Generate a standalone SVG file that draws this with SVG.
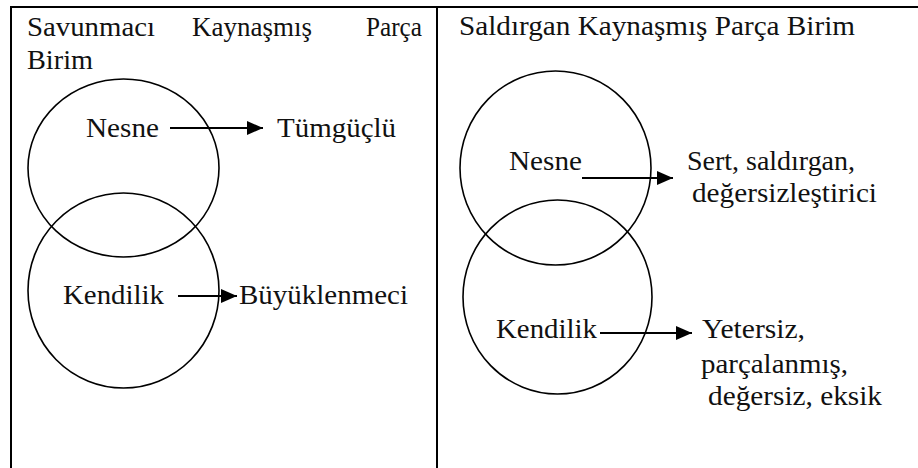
<svg xmlns="http://www.w3.org/2000/svg" width="918" height="468" viewBox="0 0 918 468">
  <style>
    .frame { stroke: #000; stroke-width: 2; fill: none; }
    .ring { stroke: #000; stroke-width: 1.6; fill: none; }
    .link { stroke: #000; stroke-width: 2; fill: none; }
    .lbl text { font-family: 'Liberation Serif', 'DejaVu Serif', 'Times New Roman', serif; font-size: 28px; fill: #111; }
  </style>
  <defs>
    <marker id="head" viewBox="0 0 16 14" refX="16" refY="7" markerWidth="16" markerHeight="14" markerUnits="userSpaceOnUse" orient="auto">
      <path d="M0,0 L16,7 L0,14 Z" fill="#000"/>
    </marker>
  </defs>

  <!-- table frame -->
  <g id="table">
    <line class="frame" x1="10" y1="7" x2="918" y2="7"/>
    <line class="frame" x1="11" y1="6" x2="11" y2="468"/>
    <line class="frame" x1="437" y1="6" x2="437" y2="468"/>
  </g>

  <g class="lbl">
  <!-- left panel -->
  <g id="title-left">
    <text x="27" y="36" textLength="128" lengthAdjust="spacingAndGlyphs">Savunmacı</text>
    <text x="192" y="36" textLength="120" lengthAdjust="spacingAndGlyphs">Kaynaşmış</text>
    <text x="366" y="36" textLength="56" lengthAdjust="spacingAndGlyphs">Parça</text>
    <text x="27" y="69" textLength="66" lengthAdjust="spacingAndGlyphs">Birim</text>
  </g>
  <g id="object-left">
    <ellipse class="ring" cx="123.5" cy="168" rx="95.5" ry="89"/>
    <text x="86" y="137" textLength="73" lengthAdjust="spacingAndGlyphs">Nesne</text>
  </g>
  <g id="self-left">
    <ellipse class="ring" cx="123.5" cy="290.5" rx="95.5" ry="97.5"/>
    <text x="63" y="304" textLength="101" lengthAdjust="spacingAndGlyphs">Kendilik</text>
  </g>
  <g id="omnipotent">
    <text x="277" y="137" textLength="119" lengthAdjust="spacingAndGlyphs">Tümgüçlü</text>
  </g>
  <g id="grandiose">
    <text x="239" y="304" textLength="169" lengthAdjust="spacingAndGlyphs">Büyüklenmeci</text>
  </g>

  <!-- right panel -->
  <g id="title-right">
    <text x="459" y="35" textLength="396" lengthAdjust="spacingAndGlyphs">Saldırgan Kaynaşmış Parça Birim</text>
  </g>
  <g id="object-right">
    <ellipse class="ring" cx="555.5" cy="168" rx="95.5" ry="97"/>
    <text x="509" y="170" textLength="73" lengthAdjust="spacingAndGlyphs">Nesne</text>
  </g>
  <g id="self-right">
    <ellipse class="ring" cx="557.5" cy="297" rx="94.5" ry="97"/>
    <text x="496" y="338" textLength="101" lengthAdjust="spacingAndGlyphs">Kendilik</text>
  </g>
  <g id="harsh">
    <text x="687" y="170" textLength="168" lengthAdjust="spacingAndGlyphs">Sert, saldırgan,</text>
    <text x="692" y="202" textLength="185" lengthAdjust="spacingAndGlyphs">değersizleştirici</text>
  </g>
  <g id="inadequate">
    <text x="702" y="338" textLength="103" lengthAdjust="spacingAndGlyphs">Yetersiz,</text>
    <text x="701" y="373" textLength="147" lengthAdjust="spacingAndGlyphs">parçalanmış,</text>
    <text x="708" y="405" textLength="174" lengthAdjust="spacingAndGlyphs">değersiz, eksik</text>
  </g>
  </g>

  <!-- connectors -->
  <g id="connectors">
    <line class="link" x1="170" y1="128" x2="263" y2="128" marker-end="url(#head)"/>
    <line class="link" x1="178" y1="296" x2="237" y2="296" marker-end="url(#head)"/>
    <line class="link" x1="582" y1="178" x2="673" y2="178" marker-end="url(#head)"/>
    <line class="link" x1="600" y1="333" x2="692" y2="333" marker-end="url(#head)"/>
  </g>
</svg>
